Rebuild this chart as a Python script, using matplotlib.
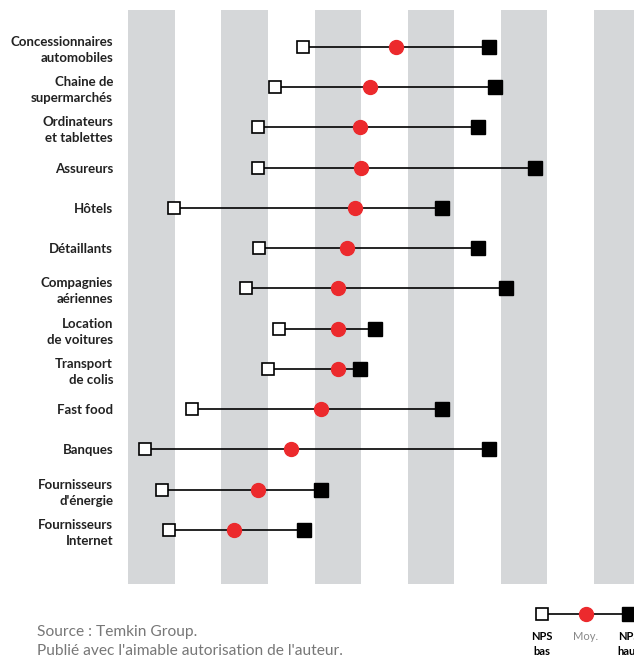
import matplotlib.pyplot as plt

# Secteurs et valeurs NPS (bas, moyenne, haut)
secteurs = ["Concessionnaires\nautomobiles", "Chaine de\nsupermarchés", "Ordinateurs\net tablettes",
            "Assureurs", "Hôtels", "Détaillants", "Compagnies\naériennes", "Location\nde voitures",
            "Transport\nde colis", "Fast food", "Banques", "Fournisseurs\nd'énergie",
            "Fournisseurs\nInternet"]
nps_bas = [18.8, 15.8, 13.9, 13.9, 4.9, 14.0, 12.6, 16.2, 15.0, 6.8, 1.8, 3.6, 4.4]
nps_moy = [28.7, 25.9, 24.9, 25.0, 24.3, 23.5, 22.5, 22.5, 22.5, 20.7, 17.5, 13.9, 11.3]
nps_haut = [38.7, 39.4, 37.5, 43.7, 33.7, 37.5, 40.6, 26.5, 24.9, 33.7, 38.7, 20.7, 18.9]

gris = "#d5d7d9"
rouge = "#ec2a2d"
police = ["Lato", "DejaVu Sans"]

fig = plt.figure(figsize=(6.34, 6.59), dpi=100)
ax = fig.add_axes([0.2024, 0.1138, 0.7976, 0.871])

# bandes verticales grises
for i in range(6):
    ax.axvspan(10 * i, 10 * i + 5, color=gris, lw=0, zorder=0)

y = list(range(len(secteurs)))
ax.hlines(y, nps_bas, nps_haut, color="black", lw=1.2, zorder=2)
ax.plot(nps_bas, y, "s", ms=9, mfc="white", mec="black", mew=1.2, ls="none", zorder=3)
ax.plot(nps_moy, y, "o", ms=10, color=rouge, ls="none", zorder=3)
ax.plot(nps_haut, y, "s", ms=10, color="black", ls="none", zorder=3)

ax.set_xlim(0, 54.3)
ax.set_ylim(13.34, -0.91)
ax.set_xticks([])
ax.set_yticks(y)
ax.set_yticklabels(secteurs, family=police, fontsize=9.5, fontweight="bold",
                   color="#222222", linespacing=1.4)
ax.tick_params(axis="y", length=0, pad=11)
for s in ax.spines.values():
    s.set_visible(False)

# source
fig.text(37 / 634, 1 - 632 / 659, "Source : Temkin Group.", family=police,
         fontsize=11.2, color="#777777", va="center")
fig.text(37 / 634, 1 - 651 / 659, "Publié avec l'aimable autorisation de l'auteur.",
         family=police, fontsize=11.2, color="#777777", va="center")

# légende
lg = fig.add_axes([520.25 / 634, 1 - 628 / 659, 130.5 / 634, 28 / 659])
lg.set_xlim(-0.5, 2.5)
lg.set_ylim(-1, 1)
lg.axis("off")
lg.plot([0, 2], [0, 0], color="black", lw=1.2, zorder=1)
lg.plot([0], [0], "s", ms=9, mfc="white", mec="black", mew=1.2, zorder=2)
lg.plot([1], [0], "o", ms=10, color=rouge, zorder=2)
lg.plot([2], [0], "s", ms=10, color="black", zorder=2)
lg.text(0, -1.2, "NPS\nbas", ha="center", va="top", fontsize=8, fontweight="bold",
        family=police, linespacing=1.5, clip_on=False)
lg.text(1, -1.2, "Moy.", ha="center", va="top", fontsize=8, color="#888888",
        family=police, clip_on=False)
lg.text(2, -1.2, "NPS\nhaut", ha="center", va="top", fontsize=8, fontweight="bold",
        family=police, linespacing=1.5, clip_on=False)

fig.savefig("out.png", dpi=100)
